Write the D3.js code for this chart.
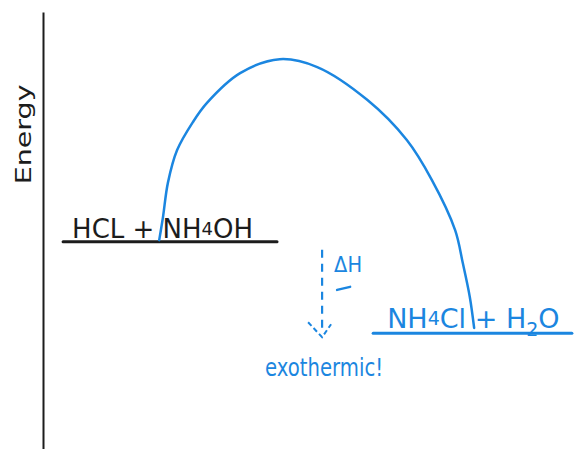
<!DOCTYPE html>
<html>
<head>
<meta charset="utf-8">
<style>
body { margin: 0; background: #fff; }
text { font-family: "DejaVu Sans", sans-serif; }
</style>
</head>
<body>
<script src="https://cdn.jsdelivr.net/npm/d3@7/dist/d3.min.js"></script>
<script>

// energy levels (energy in arbitrary units, progress in % of the reaction axis)
var levelNames = ["reactants", "products"];
var levelEnergy = [47.4, 26.5];
var levelStart = [3.7, 60.8];
var levelEnd = [43.1, 97.4];

// reaction path
var pathProgress = [21.4, 22.1, 23.0, 24.7, 27.6, 30.2, 36.3, 43.6, 50.5, 59.7, 67.0, 71.6, 75.9, 77.3, 78.6, 79.4];
var pathEnergy   = [47.8, 53.1, 60.9, 68.4, 74.8, 79.2, 86.0, 89.2, 87.4, 79.9, 70.7, 61.6, 50.1, 42.6, 34.8, 27.7];

// enthalpy change arrow
var deltaProgress = 51.4;

var width = 586,
    height = 449;

var blue = "#1b86e0",
    ink = "#1c1c1c";

var x = d3.scaleLinear().domain([0, 100]).range([43, 586]);
var y = d3.scaleLinear().domain([0, 100]).range([449, 12]);

var svg = d3.select("body").append("svg")
    .attr("width", width)
    .attr("height", height);

// energy axis, no ticks
svg.append("g")
    .attr("transform", "translate(" + x(0) + ",0)")
    .call(d3.axisLeft(y).tickValues([]).tickSizeOuter(0))
    .select(".domain")
    .attr("stroke", ink)
    .attr("stroke-width", 2);

svg.append("text")
    .attr("transform", "translate(31," + y(72) + ") rotate(-90)")
    .attr("text-anchor", "middle")
    .attr("font-size", 22)
    .attr("textLength", 100)
    .attr("lengthAdjust", "spacingAndGlyphs")
    .attr("fill", ink)
    .text("Energy");

// level lines
svg.selectAll("line.level")
    .data(levelNames)
    .enter().append("line")
    .attr("class", "level")
    .attr("x1", function(d, i) { return x(levelStart[i]); })
    .attr("x2", function(d, i) { return x(levelEnd[i]); })
    .attr("y1", function(d, i) { return y(levelEnergy[i]); })
    .attr("y2", function(d, i) { return y(levelEnergy[i]); })
    .attr("stroke", function(d, i) { return i == 0 ? ink : blue; })
    .attr("stroke-width", 3)
    .attr("stroke-linecap", "round");

// reaction curve
var curve = d3.line()
    .x(function(d) { return x(d[0]); })
    .y(function(d) { return y(d[1]); })
    .curve(d3.curveCatmullRom);

svg.append("path")
    .attr("d", curve(d3.zip(pathProgress, pathEnergy)))
    .attr("fill", "none")
    .attr("stroke", blue)
    .attr("stroke-width", 2.5)
    .attr("stroke-linecap", "round");

// reactant label
var r = svg.append("text")
    .attr("x", x(levelStart[0]) + 9)
    .attr("y", y(levelEnergy[0]) - 4)
    .attr("font-size", 26)
    .attr("fill", ink);
r.append("tspan").text("HCL + NH");
r.append("tspan").attr("font-size", 18).attr("dy", -3).text("4");
r.append("tspan").attr("dy", 3).text("OH");

// product label
var p = svg.append("text")
    .attr("x", x(levelStart[1]) + 14)
    .attr("y", y(levelEnergy[1]) - 5)
    .attr("font-size", 27)
    .attr("fill", blue);
p.append("tspan").text("NH");
p.append("tspan").attr("font-size", 19).attr("dy", -3).text("4");
p.append("tspan").attr("dy", 3).text("Cl + H");
p.append("tspan").attr("font-size", 19).attr("dy", 8).text("2");
p.append("tspan").attr("dy", -8).text("O");

// delta H arrow
var ax = x(deltaProgress),
    ay0 = y(levelEnergy[0]) + 8,
    ay1 = y(levelEnergy[1]) + 4;

svg.append("line")
    .attr("x1", ax).attr("x2", ax)
    .attr("y1", ay0).attr("y2", ay1 - 6)
    .attr("stroke", blue)
    .attr("stroke-width", 2.2)
    .attr("stroke-dasharray", "8,6");

svg.append("path")
    .attr("d", "M" + (ax - 14) + "," + (ay1 - 15) + "L" + ax + "," + ay1 + "L" + (ax + 9) + "," + (ay1 - 13))
    .attr("fill", "none")
    .attr("stroke", blue)
    .attr("stroke-width", 2)
    .attr("stroke-dasharray", "5,3");

svg.append("text")
    .attr("x", ax + 12)
    .attr("y", y(levelEnergy[0]) + 30)
    .attr("font-size", 21)
    .attr("fill", blue)
    .attr("textLength", 28)
    .attr("lengthAdjust", "spacingAndGlyphs")
    .text("ΔH");

svg.append("line")
    .attr("x1", ax + 15).attr("x2", ax + 28)
    .attr("y1", y(levelEnergy[0]) + 48).attr("y2", y(levelEnergy[0]) + 45)
    .attr("stroke", blue)
    .attr("stroke-width", 2.5)
    .attr("stroke-linecap", "round");

svg.append("text")
    .attr("x", ax - 57)
    .attr("y", ay1 + 39)
    .attr("font-size", 24)
    .attr("fill", blue)
    .attr("textLength", 118)
    .attr("lengthAdjust", "spacingAndGlyphs")
    .text("exothermic!");

</script>
</body>
</html>
